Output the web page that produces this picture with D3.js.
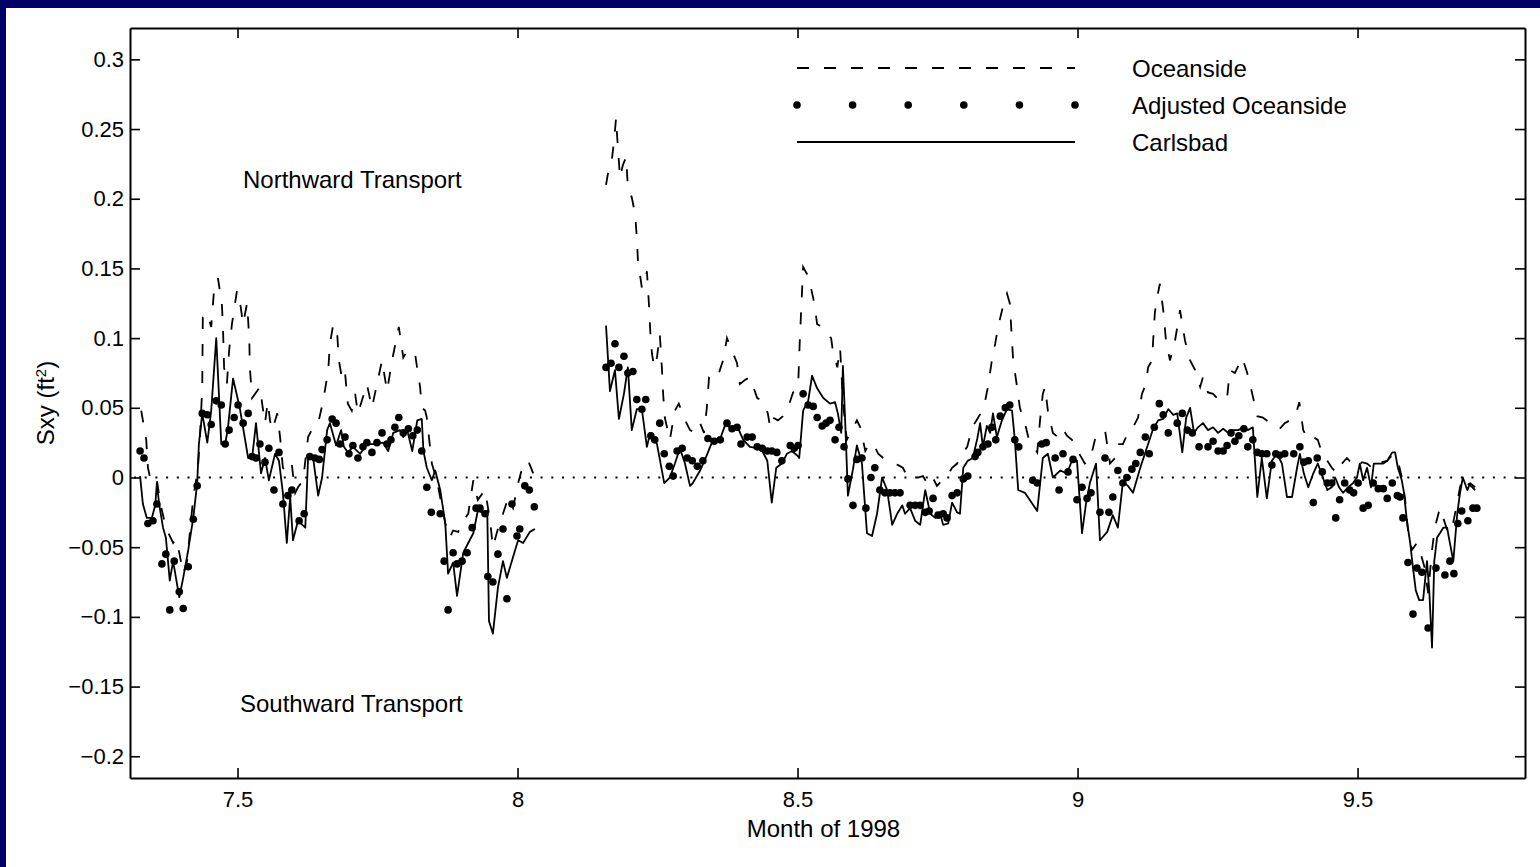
<!DOCTYPE html>
<html>
<head>
<meta charset="utf-8">
<script src="https://cdn.jsdelivr.net/npm/d3@7"></script>
<style>
    html, body { margin: 0; padding: 0; background: #fff; }
    svg { display: block; }
    text { font-family: "Liberation Sans", Arial, Helvetica, sans-serif; fill: #000; }
</style>
</head>
<body>
<div id="chart"></div>
<script>
// [month of 1998, Sxy (ft^2)]
var oceanside1 = [
    [7.328,0.048],[7.331,0.041],[7.337,0.027],[7.340,0.007],[7.346,-0.004],[7.351,-0.004],[7.356,-0.002],[7.363,-0.020],[7.372,-0.036],[7.385,-0.047],[7.390,-0.044],[7.396,-0.054],[7.403,-0.069],[7.410,-0.060],[7.421,-0.014],[7.429,0.005],[7.433,0.029],[7.437,0.065],[7.438,0.115],[7.446,0.118],[7.453,0.108],[7.458,0.134],[7.465,0.143],[7.472,0.125],[7.474,0.108],[7.476,0.079],[7.481,0.067],[7.485,0.091],[7.490,0.110],[7.499,0.134],[7.504,0.127],[7.510,0.110],[7.517,0.125],[7.521,0.100],[7.522,0.079],[7.526,0.057],[7.535,0.062],[7.540,0.065],[7.544,0.053],[7.549,0.039],[7.554,0.054],[7.558,0.041],[7.562,0.034],[7.571,0.046],[7.576,0.029],[7.581,0.007],[7.588,0.003],[7.597,0.009],[7.603,-0.011],[7.608,-0.007],[7.617,-0.002],[7.626,0.029],[7.635,0.036],[7.644,0.039],[7.653,0.055],[7.662,0.077],[7.665,0.096],[7.671,0.110],[7.678,0.103],[7.681,0.084],[7.687,0.070],[7.692,0.075],[7.697,0.053],[7.704,0.048],[7.710,0.060],[7.715,0.046],[7.722,0.055],[7.731,0.067],[7.740,0.050],[7.749,0.067],[7.758,0.084],[7.767,0.062],[7.776,0.084],[7.783,0.098],[7.788,0.108],[7.796,0.086],[7.803,0.091],[7.808,0.089],[7.817,0.089],[7.822,0.075],[7.826,0.065],[7.829,0.050],[7.835,0.048],[7.838,0.043],[7.847,0.010],[7.856,-0.002],[7.871,-0.033],[7.879,-0.043],[7.885,-0.038],[7.894,-0.039],[7.903,-0.031],[7.912,-0.026],[7.921,-0.002],[7.929,-0.016],[7.942,-0.009],[7.951,-0.031],[7.956,-0.050],[7.969,-0.031],[7.974,-0.026],[7.983,-0.015],[7.992,-0.022],[8.001,-0.004],[8.010,0.009],[8.019,0.012],[8.028,0.003]
];
var oceanside2 = [
    [8.158,0.210],[8.161,0.217],[8.169,0.230],[8.172,0.240],[8.176,0.258],[8.178,0.244],[8.183,0.215],[8.188,0.224],[8.194,0.230],[8.197,0.208],[8.204,0.201],[8.210,0.189],[8.213,0.172],[8.215,0.156],[8.222,0.136],[8.228,0.141],[8.231,0.148],[8.235,0.122],[8.237,0.105],[8.240,0.089],[8.244,0.079],[8.249,0.086],[8.254,0.103],[8.258,0.077],[8.260,0.060],[8.263,0.043],[8.272,0.027],[8.281,0.048],[8.288,0.053],[8.297,0.043],[8.308,0.034],[8.317,0.032],[8.326,0.039],[8.333,0.032],[8.338,0.050],[8.342,0.072],[8.349,0.075],[8.358,0.073],[8.367,0.084],[8.374,0.100],[8.383,0.091],[8.392,0.082],[8.397,0.067],[8.406,0.070],[8.415,0.072],[8.428,0.057],[8.438,0.055],[8.447,0.046],[8.451,0.036],[8.456,0.043],[8.465,0.041],[8.474,0.044],[8.483,0.050],[8.492,0.061],[8.501,0.065],[8.504,0.098],[8.510,0.151],[8.517,0.146],[8.524,0.136],[8.530,0.125],[8.535,0.110],[8.544,0.108],[8.553,0.103],[8.560,0.100],[8.563,0.091],[8.571,0.079],[8.576,0.093],[8.581,0.055],[8.588,0.027],[8.597,0.034],[8.606,0.041],[8.612,0.036],[8.621,0.019],[8.629,0.025],[8.638,0.022],[8.644,0.017],[8.653,0.014],[8.660,0.012],[8.671,0.010],[8.679,0.009],[8.688,0.007],[8.697,0.000],[8.706,0.001],[8.715,0.000],[8.724,0.001],[8.731,-0.004],[8.740,0.001],[8.749,-0.006],[8.758,-0.002],[8.767,0.001],[8.776,0.007],[8.785,0.010],[8.794,0.017],[8.803,0.022],[8.812,0.036],[8.821,0.042],[8.830,0.048],[8.835,0.055],[8.840,0.065],[8.847,0.084],[8.853,0.096],[8.858,0.108],[8.867,0.123],[8.874,0.132],[8.879,0.125],[8.885,0.084],[8.892,0.065],[8.897,0.050],[8.906,0.039],[8.912,0.029],[8.928,0.018],[8.933,0.041],[8.938,0.060],[8.942,0.065],[8.947,0.048],[8.956,0.032],[8.965,0.029],[8.974,0.035],[8.981,0.030],[8.990,0.027],[8.996,0.022],[9.013,0.010],[9.022,0.012],[9.031,0.027],[9.049,0.034],[9.058,0.010],[9.067,0.014],[9.072,0.024],[9.081,0.024],[9.090,0.032],[9.099,0.036],[9.108,0.043],[9.115,0.060],[9.122,0.067],[9.126,0.079],[9.133,0.084],[9.135,0.098],[9.138,0.118],[9.142,0.129],[9.147,0.139],[9.153,0.120],[9.158,0.098],[9.165,0.084],[9.174,0.098],[9.183,0.120],[9.192,0.098],[9.201,0.084],[9.210,0.077],[9.219,0.065],[9.224,0.072],[9.233,0.061],[9.242,0.060],[9.254,0.055],[9.267,0.057],[9.272,0.077],[9.281,0.075],[9.294,0.086],[9.303,0.075],[9.312,0.060],[9.321,0.044],[9.331,0.043],[9.344,0.039],[9.353,0.036],[9.361,0.035],[9.370,0.039],[9.379,0.041],[9.388,0.043],[9.396,0.054],[9.403,0.034],[9.412,0.027],[9.421,0.029],[9.429,0.027],[9.437,0.017],[9.446,0.012],[9.454,0.007],[9.463,0.003],[9.472,0.010],[9.481,0.014],[9.490,0.010],[9.499,0.007],[9.508,0.011],[9.517,0.010],[9.526,0.007],[9.535,0.012],[9.544,0.011],[9.553,0.012],[9.562,0.016],[9.571,0.014],[9.579,0.000],[9.585,-0.016],[9.590,-0.038],[9.597,-0.052],[9.606,-0.047],[9.613,-0.055],[9.620,-0.065],[9.626,-0.083],[9.633,-0.052],[9.638,-0.036],[9.647,-0.022],[9.653,-0.029],[9.662,-0.040],[9.669,-0.036],[9.676,-0.022],[9.683,-0.007],[9.688,0.000],[9.696,-0.004],[9.705,-0.007],[9.710,-0.009]
];

var adjusted1 = [
    [7.326,0.019],[7.333,0.014],[7.340,-0.033],[7.349,-0.031],[7.356,-0.019],[7.365,-0.062],[7.372,-0.055],[7.379,-0.095],[7.387,-0.060],[7.396,-0.082],[7.403,-0.094],[7.412,-0.064],[7.421,-0.030],[7.428,-0.006],[7.437,0.046],[7.446,0.045],[7.453,0.038],[7.462,0.055],[7.471,0.052],[7.478,0.024],[7.485,0.034],[7.494,0.043],[7.501,0.052],[7.510,0.039],[7.519,0.046],[7.526,0.015],[7.533,0.014],[7.540,0.024],[7.549,0.011],[7.556,0.021],[7.565,-0.009],[7.574,0.018],[7.581,-0.019],[7.590,-0.013],[7.597,-0.009],[7.610,-0.031],[7.619,-0.026],[7.629,0.015],[7.638,0.014],[7.646,0.013],[7.651,0.020],[7.660,0.027],[7.669,0.042],[7.676,0.039],[7.683,0.024],[7.692,0.029],[7.699,0.017],[7.706,0.023],[7.715,0.014],[7.724,0.022],[7.731,0.025],[7.740,0.018],[7.749,0.025],[7.758,0.032],[7.767,0.024],[7.774,0.027],[7.781,0.036],[7.788,0.043],[7.796,0.032],[7.805,0.035],[7.813,0.030],[7.821,0.034],[7.829,0.019],[7.838,-0.007],[7.846,-0.025],[7.862,-0.026],[7.869,-0.060],[7.876,-0.095],[7.885,-0.054],[7.892,-0.062],[7.901,-0.060],[7.910,-0.054],[7.919,-0.036],[7.926,-0.022],[7.933,-0.022],[7.942,-0.026],[7.947,-0.071],[7.956,-0.075],[7.965,-0.055],[7.974,-0.037],[7.981,-0.087],[7.990,-0.019],[7.999,-0.042],[8.004,-0.037],[8.013,-0.006],[8.021,-0.009],[8.030,-0.021]
];
var adjusted2 = [
    [8.158,0.079],[8.167,0.082],[8.174,0.096],[8.181,0.079],[8.190,0.087],[8.197,0.075],[8.206,0.076],[8.213,0.056],[8.222,0.049],[8.229,0.056],[8.238,0.030],[8.245,0.027],[8.254,0.039],[8.262,0.017],[8.271,0.008],[8.278,0.001],[8.285,0.019],[8.294,0.021],[8.303,0.014],[8.312,0.012],[8.321,0.008],[8.331,0.012],[8.340,0.028],[8.351,0.026],[8.362,0.027],[8.374,0.039],[8.383,0.035],[8.392,0.036],[8.399,0.024],[8.410,0.029],[8.419,0.029],[8.428,0.022],[8.437,0.021],[8.446,0.019],[8.454,0.019],[8.463,0.018],[8.472,0.012],[8.487,0.023],[8.494,0.021],[8.501,0.023],[8.510,0.060],[8.519,0.052],[8.528,0.051],[8.535,0.043],[8.544,0.037],[8.551,0.039],[8.558,0.041],[8.567,0.027],[8.574,0.036],[8.583,0.022],[8.590,-0.001],[8.599,-0.020],[8.606,0.013],[8.615,0.014],[8.622,-0.022],[8.631,0.000],[8.638,0.007],[8.647,-0.009],[8.656,-0.011],[8.665,-0.011],[8.674,-0.011],[8.683,-0.011],[8.701,-0.020],[8.710,-0.020],[8.719,-0.020],[8.728,-0.025],[8.735,-0.024],[8.742,-0.015],[8.751,-0.027],[8.760,-0.026],[8.767,-0.029],[8.776,-0.013],[8.785,-0.011],[8.796,-0.001],[8.804,0.001],[8.817,0.015],[8.822,0.018],[8.831,0.022],[8.840,0.024],[8.847,0.036],[8.854,0.027],[8.862,0.044],[8.871,0.050],[8.879,0.052],[8.888,0.027],[8.895,0.022],[8.920,-0.002],[8.928,-0.004],[8.936,0.024],[8.944,0.025],[8.960,0.014],[8.967,-0.009],[8.974,0.017],[8.983,0.004],[8.992,0.013],[8.999,-0.016],[9.008,-0.007],[9.017,-0.015],[9.024,-0.011],[9.040,-0.025],[9.049,0.014],[9.056,-0.025],[9.063,-0.014],[9.072,0.005],[9.081,-0.004],[9.088,0.000],[9.097,0.006],[9.104,0.010],[9.112,0.018],[9.121,0.029],[9.128,0.017],[9.137,0.036],[9.146,0.053],[9.153,0.045],[9.162,0.032],[9.178,0.039],[9.187,0.046],[9.196,0.034],[9.205,0.032],[9.217,0.022],[9.233,0.022],[9.242,0.026],[9.251,0.019],[9.260,0.019],[9.267,0.023],[9.274,0.032],[9.281,0.026],[9.288,0.030],[9.297,0.035],[9.304,0.022],[9.313,0.027],[9.321,0.018],[9.329,0.017],[9.338,0.017],[9.347,0.009],[9.354,0.017],[9.361,0.016],[9.370,0.017],[9.386,0.017],[9.397,0.022],[9.404,0.011],[9.412,0.012],[9.421,-0.018],[9.428,0.014],[9.437,0.004],[9.446,-0.004],[9.454,-0.004],[9.461,-0.029],[9.468,-0.016],[9.477,-0.004],[9.486,-0.009],[9.493,-0.011],[9.501,-0.004],[9.510,-0.022],[9.519,-0.020],[9.528,-0.004],[9.537,-0.008],[9.546,-0.008],[9.553,-0.015],[9.562,-0.004],[9.571,-0.013],[9.576,-0.014],[9.581,-0.029],[9.590,-0.061],[9.599,-0.098],[9.606,-0.065],[9.615,-0.068],[9.626,-0.108],[9.640,-0.065],[9.656,-0.070],[9.665,-0.060],[9.672,-0.069],[9.679,-0.033],[9.686,-0.024],[9.697,-0.031],[9.706,-0.022],[9.713,-0.022]
];

var carlsbad1 = [
    [7.326,0.001],[7.331,-0.019],[7.338,-0.029],[7.347,-0.029],[7.353,-0.020],[7.356,-0.004],[7.360,-0.019],[7.367,-0.036],[7.372,-0.043],[7.379,-0.074],[7.385,-0.060],[7.396,-0.086],[7.403,-0.072],[7.412,-0.052],[7.421,-0.029],[7.428,-0.004],[7.431,0.024],[7.437,0.046],[7.446,0.025],[7.453,0.048],[7.462,0.100],[7.471,0.024],[7.478,0.024],[7.483,0.036],[7.492,0.071],[7.504,0.050],[7.519,0.014],[7.526,0.014],[7.533,0.039],[7.542,0.003],[7.549,0.014],[7.556,-0.002],[7.567,0.017],[7.574,0.012],[7.581,-0.011],[7.588,-0.047],[7.594,-0.014],[7.599,-0.045],[7.608,-0.031],[7.621,-0.036],[7.626,0.014],[7.635,0.014],[7.644,-0.013],[7.651,0.000],[7.660,0.034],[7.665,0.039],[7.676,0.023],[7.685,0.034],[7.690,0.022],[7.697,0.018],[7.706,0.022],[7.719,0.017],[7.731,0.024],[7.742,0.024],[7.760,0.025],[7.769,0.019],[7.778,0.032],[7.790,0.034],[7.796,0.029],[7.803,0.034],[7.812,0.019],[7.821,0.041],[7.829,0.042],[7.832,0.019],[7.838,0.007],[7.847,-0.002],[7.853,0.005],[7.862,-0.009],[7.871,-0.033],[7.876,-0.069],[7.885,-0.061],[7.892,-0.085],[7.903,-0.054],[7.921,-0.040],[7.929,-0.024],[7.937,-0.025],[7.946,-0.024],[7.949,-0.103],[7.956,-0.112],[7.965,-0.079],[7.974,-0.060],[7.981,-0.072],[7.992,-0.057],[8.001,-0.045],[8.010,-0.047],[8.022,-0.039],[8.031,-0.037]
];
var carlsbad2 = [
    [8.158,0.109],[8.165,0.062],[8.174,0.077],[8.181,0.042],[8.190,0.060],[8.197,0.079],[8.204,0.034],[8.213,0.049],[8.222,0.049],[8.231,0.022],[8.237,0.032],[8.249,0.024],[8.262,-0.004],[8.272,0.000],[8.281,0.010],[8.290,0.021],[8.299,0.010],[8.308,-0.006],[8.313,-0.004],[8.326,0.005],[8.338,0.016],[8.349,0.027],[8.362,0.028],[8.372,0.039],[8.383,0.034],[8.392,0.037],[8.403,0.027],[8.415,0.022],[8.428,0.021],[8.437,0.019],[8.446,0.012],[8.454,-0.018],[8.462,0.007],[8.472,0.010],[8.481,0.017],[8.490,0.019],[8.499,0.016],[8.503,0.014],[8.510,0.048],[8.519,0.055],[8.526,0.073],[8.535,0.064],[8.546,0.057],[8.558,0.053],[8.567,0.054],[8.572,0.046],[8.578,0.032],[8.581,0.080],[8.585,0.041],[8.590,-0.013],[8.599,0.006],[8.606,0.023],[8.615,0.010],[8.624,-0.040],[8.633,-0.042],[8.642,-0.026],[8.651,0.000],[8.660,-0.009],[8.669,-0.034],[8.678,-0.026],[8.687,-0.020],[8.692,-0.026],[8.701,-0.022],[8.710,-0.031],[8.719,-0.034],[8.728,-0.009],[8.737,-0.026],[8.746,-0.029],[8.754,-0.025],[8.760,-0.034],[8.769,-0.033],[8.776,-0.018],[8.785,-0.025],[8.790,-0.026],[8.796,0.007],[8.804,0.012],[8.813,0.014],[8.821,0.028],[8.826,0.039],[8.831,0.022],[8.838,0.037],[8.844,0.032],[8.849,0.046],[8.856,0.029],[8.865,0.041],[8.874,0.049],[8.883,0.048],[8.888,0.027],[8.894,-0.009],[8.906,-0.011],[8.928,-0.024],[8.938,0.014],[8.947,0.017],[8.956,0.000],[8.969,0.005],[8.981,0.003],[8.990,0.012],[8.999,0.012],[9.008,-0.040],[9.015,-0.019],[9.022,-0.004],[9.033,0.010],[9.040,-0.045],[9.053,-0.039],[9.063,-0.027],[9.072,-0.036],[9.081,-0.003],[9.090,-0.006],[9.099,-0.011],[9.112,0.007],[9.126,0.024],[9.135,0.035],[9.144,0.041],[9.153,0.042],[9.162,0.049],[9.171,0.045],[9.178,0.046],[9.187,0.018],[9.194,0.043],[9.201,0.050],[9.208,0.032],[9.215,0.036],[9.224,0.039],[9.233,0.034],[9.242,0.036],[9.251,0.032],[9.260,0.035],[9.269,0.032],[9.278,0.034],[9.287,0.034],[9.296,0.036],[9.304,0.034],[9.313,0.036],[9.321,-0.014],[9.329,0.014],[9.338,-0.015],[9.347,0.012],[9.356,0.017],[9.365,0.010],[9.374,-0.014],[9.383,-0.014],[9.392,0.007],[9.397,0.017],[9.404,0.003],[9.412,-0.007],[9.421,0.003],[9.429,0.010],[9.438,0.000],[9.446,-0.009],[9.454,-0.007],[9.460,0.000],[9.467,-0.007],[9.474,-0.011],[9.483,-0.007],[9.492,-0.004],[9.499,0.000],[9.504,0.010],[9.510,-0.002],[9.517,0.007],[9.524,-0.007],[9.529,0.010],[9.537,0.010],[9.546,0.010],[9.553,0.012],[9.562,0.018],[9.567,0.018],[9.572,0.007],[9.579,-0.002],[9.583,-0.011],[9.588,-0.031],[9.594,-0.047],[9.599,-0.065],[9.604,-0.081],[9.610,-0.088],[9.617,-0.088],[9.624,-0.060],[9.628,-0.081],[9.633,-0.122],[9.637,-0.060],[9.642,-0.043],[9.647,-0.040],[9.653,-0.036],[9.660,-0.036],[9.663,-0.043],[9.671,-0.060],[9.678,-0.026],[9.683,-0.011],[9.688,0.000],[9.696,-0.009],[9.701,-0.004],[9.710,-0.007]
];

var xTicks = [7.5, 8, 8.5, 9, 9.5];
var yTicks = [-0.2, -0.15, -0.1, -0.05, 0, 0.05, 0.1, 0.15, 0.2, 0.25, 0.3];
var legendLabels = ['Oceanside', 'Adjusted Oceanside', 'Carlsbad'];
var notes = ['Northward Transport', 'Southward Transport'];

(function (d3) {
    'use strict';

    var W = 1540, H = 867,
        left = 130, right = 1525, top = 28, bottom = 778,
        navy = '#000066',
        dash = '12,15',
        bigFont = '24px';

    var svg = d3.select('#chart').append('svg')
        .attr('width', W)
        .attr('height', H);

    svg.append('rect').attr('width', W).attr('height', H).attr('fill', '#fff');
    // slide frame: only top and left strips show in the scan
    svg.append('rect').attr('x', 0).attr('y', 0).attr('width', W).attr('height', 8).attr('fill', navy);
    svg.append('rect').attr('x', 0).attr('y', 0).attr('width', 6).attr('height', H).attr('fill', navy);

    var x = d3.scaleLinear().domain([7.308, 9.799]).range([left, right]),
        y = d3.scaleLinear().domain([-0.2156, 0.3225]).range([bottom, top]);

    var fmt = d3.format('');

    // axes, MATLAB style: ticks pointing inward on all four sides
    function styleAxis(g) {
        g.selectAll('path.domain').attr('stroke', '#000').attr('stroke-width', 2);
        g.selectAll('.tick line').attr('stroke', '#000').attr('stroke-width', 1.6);
        g.selectAll('.tick text')
            .attr('fill', '#000')
            .style('font-family', '"Liberation Sans", Arial, Helvetica, sans-serif')
            .style('font-size', '22px');
    }

    svg.append('g')
        .attr('transform', 'translate(0,' + bottom + ')')
        .call(d3.axisBottom(x).tickValues(xTicks).tickSizeInner(-10).tickSizeOuter(0).tickPadding(13).tickFormat(fmt))
        .call(styleAxis);

    svg.append('g')
        .attr('transform', 'translate(0,' + top + ')')
        .call(d3.axisTop(x).tickValues(xTicks).tickSizeInner(-10).tickSizeOuter(0).tickFormat(''))
        .call(styleAxis);

    svg.append('g')
        .attr('transform', 'translate(' + left + ',0)')
        .call(d3.axisLeft(y).tickValues(yTicks).tickSizeInner(-10).tickSizeOuter(0).tickPadding(6).tickFormat(fmt))
        .call(styleAxis);

    svg.append('g')
        .attr('transform', 'translate(' + right + ',0)')
        .call(d3.axisRight(y).tickValues(yTicks).tickSizeInner(-10).tickSizeOuter(0).tickFormat(''))
        .call(styleAxis);

    // zero reference, dotted
    svg.append('line')
        .attr('x1', x(x.domain()[0]) + 4).attr('x2', x(x.domain()[1]))
        .attr('y1', y(0)).attr('y2', y(0))
        .attr('stroke', '#000')
        .attr('stroke-width', 2)
        .attr('stroke-dasharray', '2,8.7');

    var line = d3.line()
        .x(function (d) { return x(d[0]); })
        .y(function (d) { return y(d[1]); });

    var plot = svg.append('g');

    [oceanside1, oceanside2].forEach(function (s) {
        plot.append('path')
            .datum(s)
            .attr('d', line)
            .attr('fill', 'none')
            .attr('stroke', '#000')
            .attr('stroke-width', 1.8)
            .attr('stroke-dasharray', dash);
    });

    [carlsbad1, carlsbad2].forEach(function (s) {
        plot.append('path')
            .datum(s)
            .attr('d', line)
            .attr('fill', 'none')
            .attr('stroke', '#000')
            .attr('stroke-width', 1.8)
            .attr('stroke-linejoin', 'round');
    });

    plot.selectAll('circle.adj')
        .data(adjusted1.concat(adjusted2))
        .enter()
        .append('circle')
        .attr('class', 'adj')
        .attr('cx', function (d) { return x(d[0]); })
        .attr('cy', function (d) { return y(d[1]); })
        .attr('r', 3.8)
        .attr('fill', '#000');

    // legend
    var lx0 = 797, lx1 = 1075, lText = 1132, rows = [68, 105, 142];

    svg.append('line')
        .attr('x1', lx0).attr('x2', lx1).attr('y1', rows[0]).attr('y2', rows[0])
        .attr('stroke', '#000').attr('stroke-width', 1.8)
        .attr('stroke-dasharray', dash);

    svg.selectAll('circle.leg')
        .data(d3.range(6))
        .enter()
        .append('circle')
        .attr('class', 'leg')
        .attr('cx', function (i) { return lx0 + i * (lx1 - lx0) / 5; })
        .attr('cy', rows[1])
        .attr('r', 3.8)
        .attr('fill', '#000');

    svg.append('line')
        .attr('x1', lx0).attr('x2', lx1).attr('y1', rows[2]).attr('y2', rows[2])
        .attr('stroke', '#000').attr('stroke-width', 1.8);

    svg.selectAll('text.leg')
        .data(legendLabels)
        .enter()
        .append('text')
        .attr('class', 'leg')
        .attr('x', lText)
        .attr('y', function (d, i) { return rows[i] + 1; })
        .attr('dy', '0.35em')
        .style('font-size', bigFont)
        .text(function (d) { return d; });

    // transport direction notes
    svg.append('text')
        .attr('x', 243).attr('y', 180).attr('dy', '0.35em')
        .style('font-size', bigFont)
        .text(notes[0]);
    svg.append('text')
        .attr('x', 240).attr('y', 704).attr('dy', '0.35em')
        .style('font-size', bigFont)
        .text(notes[1]);

    // axis titles
    svg.append('text')
        .attr('x', (left + right) / 2 - 4)
        .attr('y', 829)
        .attr('dy', '0.35em')
        .attr('text-anchor', 'middle')
        .style('font-size', bigFont)
        .text('Month of 1998');

    var yl = svg.append('text')
        .attr('transform', 'translate(46,' + ((top + bottom) / 2) + ') rotate(-90)')
        .attr('text-anchor', 'middle')
        .attr('dy', '0.35em')
        .style('font-size', bigFont);
    yl.append('tspan').text('Sxy (ft');
    yl.append('tspan').attr('baseline-shift', 'super').style('font-size', '15px').text('2');
    yl.append('tspan').text(')');

})(d3);
</script>
</body>
</html>
